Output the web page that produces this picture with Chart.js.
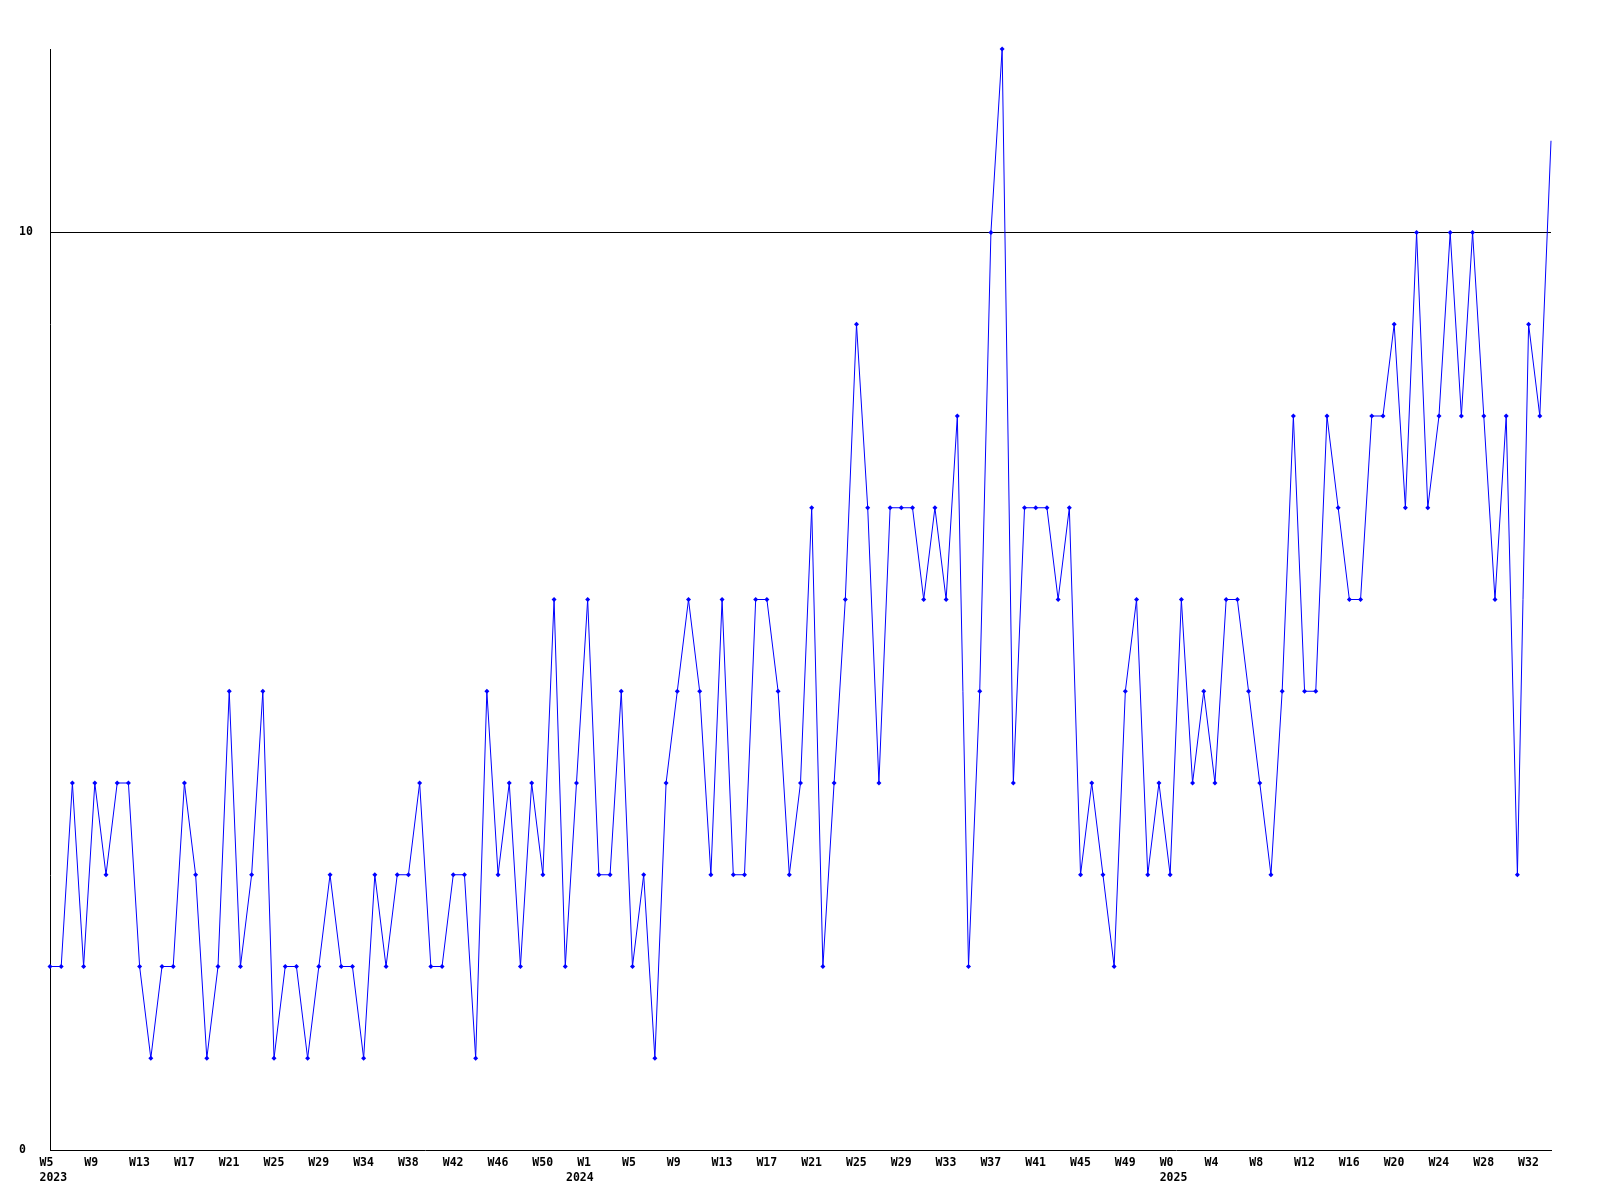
<!DOCTYPE html>
<html>
<head>
<meta charset="utf-8">
<script src="https://cdn.jsdelivr.net/npm/chart.js@4"></script>
<style>
  body { margin: 0; background: #fff; }
  #wrap { width: 1600px; height: 1200px; position: relative; }
</style>
</head>
<body>
<div id="wrap"><canvas id="weekly"></canvas></div>
<script>
// weekly counts, one array per year
const weeks2023 = [5,6,7,8,9,10,11,12,13,14,15,16,17,18,19,20,21,22,23,24,25,26,27,28,29,
                   31,32,33,34,35,36,37,38,39,40,41,42,43,44,45,46,47,48,49,50,51,52];
const counts2023 = [2,2,4,2,4,3,4,4,2,1, 2,2,4,3,1,2,5,2,3,5, 1,2,2,1,2,3,2,2,1,3,
                    2,3,3,4,2,2,3,3,1,5, 3,4,2,4,3,6,2];

const weeks2024 = [0,1,2,3,4,5,6,7,8,9,10,11,12,13,14,15,16,17,18,19,20,21,22,23,24,25,26,
                   27,28,29,30,31,32,33,34,35,36,37,38,39,40,41,42,43,44,45,46,47,48,49,50,51,52];
const counts2024 = [4,6,3,3,5,2,3,1,4,5, 6,5,3,6,3,3,6,6,5,3, 4,7,2,4,6,9,7,4,7,7,
                    7,6,7,6,8,2,5,10,12,4, 7,7,7,6,7,3,4,3,2,5, 6,3,4];

const weeks2025 = [0,1,2,3,4,5,6,7,8,9,10,11,12,13,14,15,16,17,18,19,20,21,22,23,24,25,26,
                   27,28,29,30,31,32,33,34];
const counts2025 = [3,6,4,5,4,6,6,5,4,3, 5,8,5,5,8,7,6,6,8,8, 9,7,10,7,8,10,8,10,8,6,
                    8,3,9,8,11];

const yTicks = [0, 10];

const labels = [];
const yearAt = {};
[[2023, weeks2023], [2024, weeks2024], [2025, weeks2025]].forEach(([yr, wk]) => {
    yearAt[labels.length] = yr;
    wk.forEach(w => labels.push('W' + w));
});
const values = counts2023.concat(counts2024, counts2025);
const last = values.length - 1;

const font = { family: 'DejaVu Sans Mono', size: 11.5, weight: 'bold', lineHeight: '15px' };

new Chart(document.getElementById('weekly'), {
    type: 'line',
    data: {
        labels: labels,
        datasets: [{
            data: values,
            borderColor: '#0000ff',
            backgroundColor: '#0000ff',
            borderWidth: 1,
            tension: 0,
            fill: false,
            clip: false,
            pointStyle: 'rectRot',
            pointRadius: ctx => ctx.dataIndex === last ? 0 : 2.5,
            pointBorderWidth: 0,
            pointBackgroundColor: '#0000ff'
        }]
    },
    options: {
        responsive: true,
        maintainAspectRatio: false,
        animation: false,
        layout: { padding: { top: 49, right: 49, left: 19, bottom: 0 } },
        plugins: { legend: { display: false }, tooltip: { enabled: false } },
        scales: {
            x: {
                grid: { display: false, drawTicks: false },
                border: { display: true, color: '#000', width: 1 },
                afterFit: s => { s.height = 50; },
                ticks: {
                    autoSkip: false,
                    maxRotation: 0,
                    minRotation: 0,
                    align: 'start',
                    labelOffset: -10.5,
                    padding: 6,
                    color: '#000',
                    font: font,
                    callback: function (v, i) {
                        const wk = i % 4 === 0 ? labels[i] : '';
                        if (yearAt[i] !== undefined) return [wk, String(yearAt[i])];
                        return wk;
                    }
                }
            },
            y: {
                min: 0,
                max: 12,
                afterFit: s => { s.width = 31; },
                afterBuildTicks: s => { s.ticks = yTicks.map(v => ({ value: v })); },
                grid: {
                    drawTicks: false,
                    color: c => c.tick && c.tick.value === 10 ? '#000' : 'rgba(0,0,0,0)'
                },
                border: { display: true, color: '#000', width: 1 },
                ticks: {
                    crossAlign: 'far',
                    padding: 0,
                    color: '#000',
                    font: font
                }
            }
        }
    }
});
</script>
</body>
</html>
